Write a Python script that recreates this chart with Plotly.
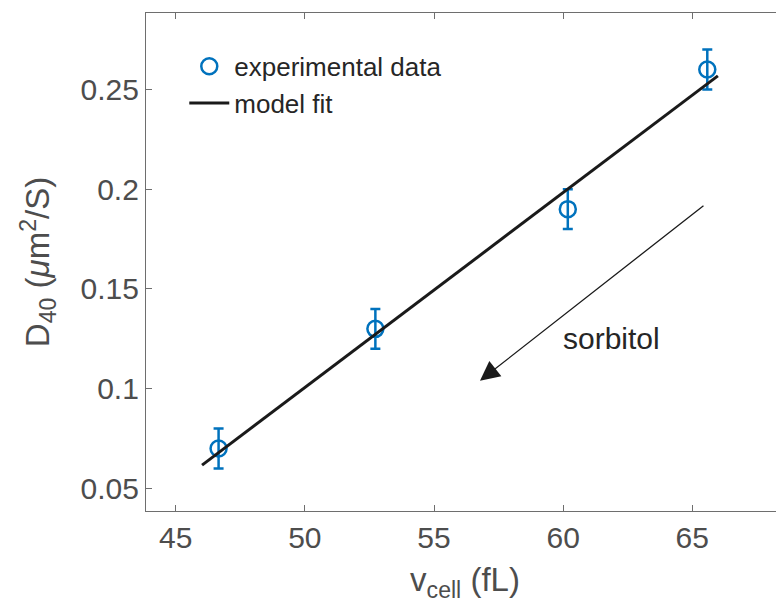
import plotly.graph_objects as go

# measured cell volume vs D40
v_cell = [46.66, 52.73, 60.18, 65.58]
d40 = [0.07, 0.13, 0.19, 0.26]
d40_err = [0.01, 0.01, 0.01, 0.01]

# linear model fit, end points
fit_v = [46.02, 65.99]
fit_d = [0.0617, 0.2568]

BLUE = "#0072BD"
FONT = "Liberation Sans, Arial, Helvetica, sans-serif"

fig = go.Figure()
fig.add_trace(
    go.Scatter(
        x=v_cell,
        y=d40,
        mode="markers",
        name="experimental data",
        marker=dict(symbol="circle-open", size=16, color=BLUE, line=dict(width=2.5, color=BLUE)),
        error_y=dict(type="data", array=d40_err, visible=True, color=BLUE, thickness=2.5, width=5),
    )
)
fig.add_trace(
    go.Scatter(
        x=fit_v,
        y=fit_d,
        mode="lines",
        name="model fit",
        line=dict(color="#1a1a1a", width=3),
    )
)

# sorbitol arrow (tail -> head in data units)
fig.add_annotation(
    x=56.78, y=0.104, ax=65.49, ay=0.1923,
    xref="x", yref="y", axref="x", ayref="y",
    text="", showarrow=True, arrowhead=2, arrowsize=3, arrowwidth=1.3, arrowcolor="#1a1a1a",
)
fig.add_annotation(
    x=59.93, y=0.125, xref="x", yref="y", text="sorbitol", showarrow=False,
    xanchor="left", font=dict(size=30, color="#262626", family=FONT),
)

axis_common = dict(
    showgrid=False,
    zeroline=False,
    showline=True,
    linecolor="#6e6e6e",
    linewidth=1.2,
    ticks="inside",
    ticklen=6,
    tickcolor="#6e6e6e",
    tickfont=dict(size=30, color="#4d4d4d", family=FONT),
)

# page has an 8px body margin, so the figure is 8px smaller than the window
fig.update_layout(
    width=776,
    height=605,
    paper_bgcolor="white",
    plot_bgcolor="white",
    margin=dict(l=138, r=0, t=5, b=102),
    font=dict(family=FONT, color="#4d4d4d"),
    xaxis=dict(
        range=[43.85, 68.55],
        tickvals=[45, 50, 55, 60, 65],
        mirror="ticks",
        title=dict(text="v<sub>cell</sub> (fL)", font=dict(size=33, color="#4d4d4d"), standoff=14),
        **axis_common,
    ),
    yaxis=dict(
        range=[0.0387, 0.2883],
        tickvals=[0.05, 0.1, 0.15, 0.2, 0.25],
        ticktext=["0.05", "0.1", "0.15", "0.2", "0.25"],
        title=dict(text="D<sub>40</sub> (<i>μ</i>m<sup>2</sup>/S)", font=dict(size=33, color="#4d4d4d"), standoff=20),
        **axis_common,
    ),
    showlegend=True,
    legend=dict(
        x=0.06,
        y=0.94,
        xanchor="left",
        yanchor="top",
        bgcolor="rgba(0,0,0,0)",
        font=dict(size=26, color="#262626", family=FONT),
        itemwidth=40,
    ),
)

fig.write_html("out.html")
